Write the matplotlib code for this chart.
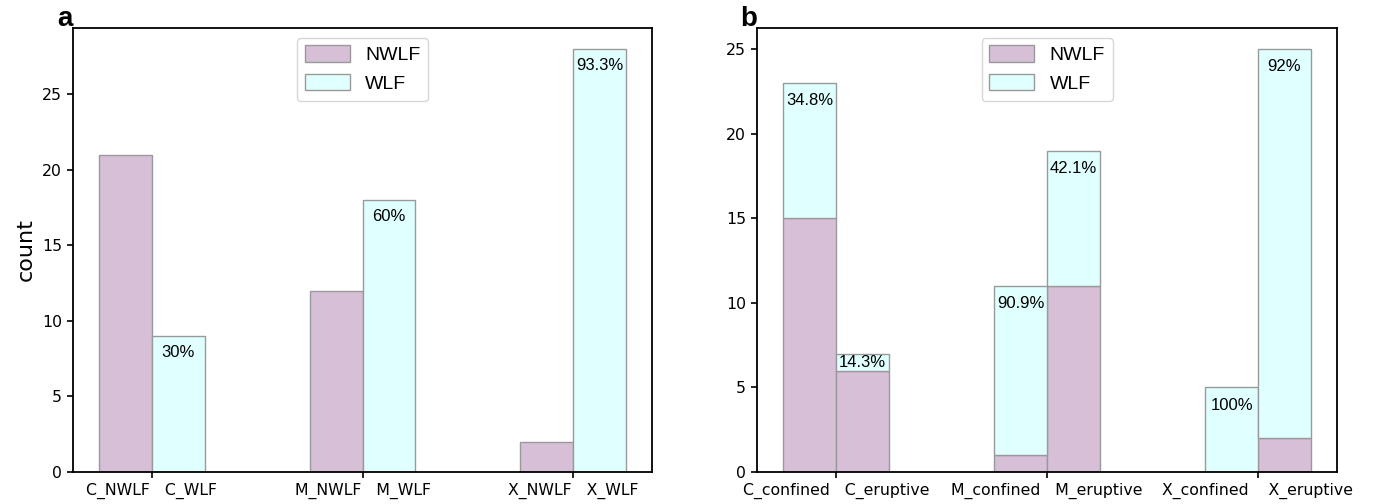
import numpy as np
import matplotlib
matplotlib.use('Agg')
import matplotlib.pyplot as plt

# panel a: WLF / NWLF counts per flare class
classes = ['C', 'M', 'X']
a_nwlf = [21, 12, 2]
a_wlf = [9, 18, 28]
a_pct = ['30%', '60%', '93.3%']
a_ticklabels = ['C_NWLF   C_WLF', 'M_NWLF   M_WLF', 'X_NWLF   X_WLF']

# panel b: confined / eruptive, stacked NWLF + WLF
b_nwlf = [15, 6, 1, 11, 0, 2]
b_wlf = [8, 1, 10, 8, 5, 23]
b_pct = ['34.8%', '14.3%', '90.9%', '42.1%', '100%', '92%']
b_ticklabels = ['C_confined   C_eruptive', 'M_confined   M_eruptive', 'X_confined    X_eruptive']

c_nwlf = '#d8bfd8'
c_wlf = '#e0ffff'
edge = '#999999'
width = 0.25

fig = plt.figure(figsize=(13.83, 5.04), dpi=100)
ax1 = fig.add_axes([0.0528, 0.0635, 0.4187, 0.881])
ax2 = fig.add_axes([0.5474, 0.0635, 0.4194, 0.881])

groups = np.arange(len(classes))


def style_axes(ax, ticklabels):
    ax.set_xticks(groups)
    ax.set_xticklabels(ticklabels)
    ax.tick_params(axis='both', labelsize=11.3, length=4.5, width=1.2)
    for s in ax.spines.values():
        s.set_linewidth(1.3)
    ax.set_yticks([0, 5, 10, 15, 20, 25])
    ax.legend(loc='upper center', prop={'family': 'Liberation Sans', 'size': 14},
              handlelength=2.3, handleheight=0.9)


# ---- panel a
xa_n = groups - width / 2
xa_w = groups + width / 2
ax1.bar(xa_n, a_nwlf, width, color=c_nwlf, edgecolor=edge, linewidth=1, label='NWLF')
ax1.bar(xa_w, a_wlf, width, color=c_wlf, edgecolor=edge, linewidth=1, label='WLF')
for x, v, t in zip(xa_w, a_wlf, a_pct):
    ax1.text(x, v - 1.1, t, ha='center', va='center', family='Liberation Sans', fontsize=12)
style_axes(ax1, a_ticklabels)
ax1.set_ylabel('count', fontsize=16)
ax1.text(0, 1.005, 'a', transform=ax1.transAxes, ha='right', va='baseline',
         family='Liberation Sans', fontweight='bold', fontsize=20)

# ---- panel b
xb = np.ravel(np.column_stack([groups - width / 2, groups + width / 2]))
ax2.bar(xb, b_nwlf, width, color=c_nwlf, edgecolor=edge, linewidth=1, label='NWLF')
ax2.bar(xb, b_wlf, width, bottom=b_nwlf, color=c_wlf, edgecolor=edge, linewidth=1, label='WLF')
for x, n, w, t in zip(xb, b_nwlf, b_wlf, b_pct):
    total = n + w
    off = 0.55 if w <= 1 else 1.05
    ax2.text(x, total - off, t, ha='center', va='center', family='Liberation Sans', fontsize=12)
style_axes(ax2, b_ticklabels)
ax2.text(0, 1.005, 'b', transform=ax2.transAxes, ha='right', va='baseline',
         family='Liberation Sans', fontweight='bold', fontsize=20)

fig.savefig('out.png', dpi=100)
